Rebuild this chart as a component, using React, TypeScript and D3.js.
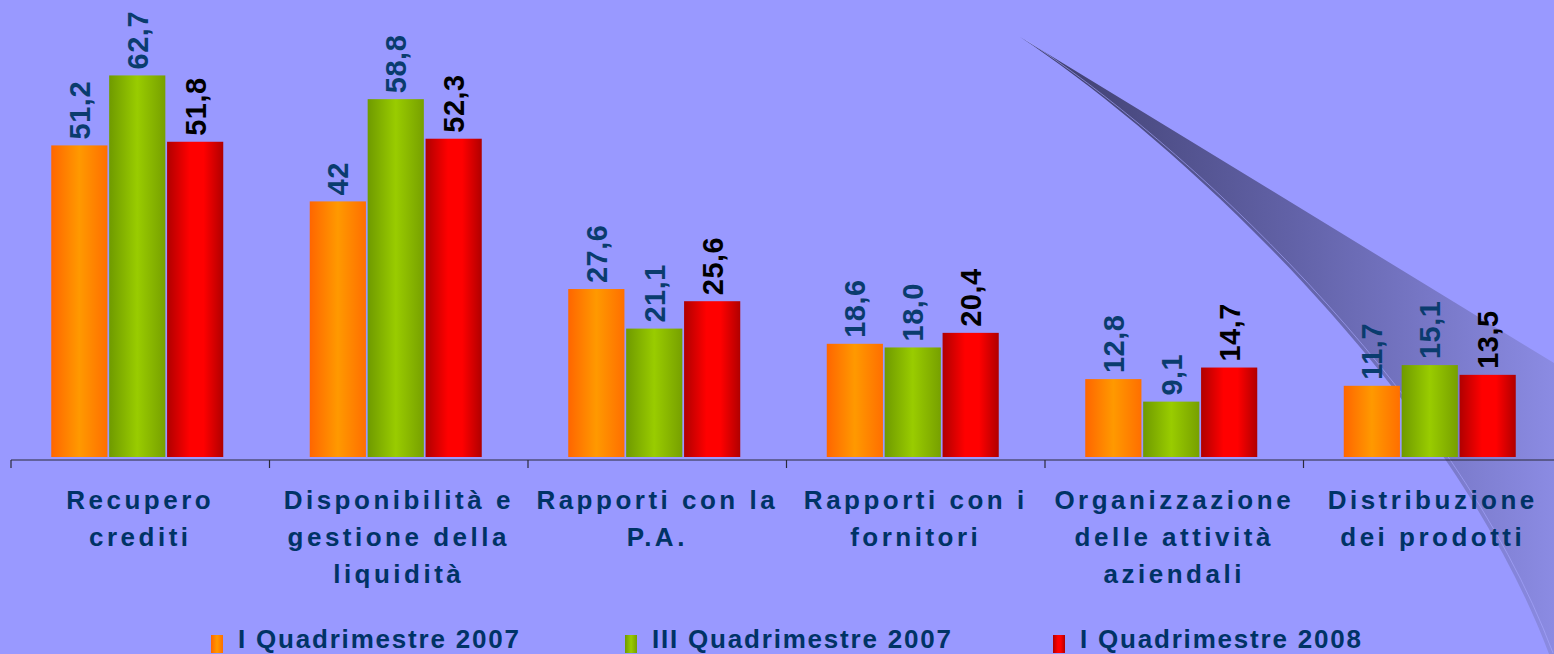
import * as d3 from "d3";

// chart data
const categories = [
  "Recupero crediti",
  "Disponibilità e gestione della liquidità",
  "Rapporti con la P.A.",
  "Rapporti con i fornitori",
  "Organizzazione delle attività aziendali",
  "Distribuzione dei prodotti",
];
const categoryLines = [
  ["Recupero", "crediti"],
  ["Disponibilità e", "gestione della", "liquidità"],
  ["Rapporti con la", "P.A."],
  ["Rapporti con i", "fornitori"],
  ["Organizzazione", "delle attività", "aziendali"],
  ["Distribuzione", "dei prodotti"],
];
const seriesNames = ["I Quadrimestre 2007", "III Quadrimestre 2007", "I Quadrimestre 2008"];
const q1_2007 = [51.2, 42, 27.6, 18.6, 12.8, 11.7];
const q3_2007 = [62.7, 58.8, 21.1, 18.0, 9.1, 15.1];
const q1_2008 = [51.8, 52.3, 25.6, 20.4, 14.7, 13.5];
const q1_2007Labels = ["51,2", "42", "27,6", "18,6", "12,8", "11,7"];
const q3_2007Labels = ["62,7", "58,8", "21,1", "18,0", "9,1", "15,1"];
const q1_2008Labels = ["51,8", "52,3", "25,6", "20,4", "14,7", "13,5"];

const W = 1554;
const H = 654;
const FONT = "Arial, 'Liberation Sans', sans-serif";
const NAVY = "#003366";

const series = [
  { name: seriesNames[0], values: q1_2007, labels: q1_2007Labels, grad: "gOrange", labelColor: "#0a3c6e" },
  { name: seriesNames[1], values: q3_2007, labels: q3_2007Labels, grad: "gGreen", labelColor: "#0a3c6e" },
  { name: seriesNames[2], values: q1_2008, labels: q1_2008Labels, grad: "gRed", labelColor: "#000000" },
];

const legendX = [211, 625, 1053];

export default function App() {
  const x0 = d3
    .scaleBand<string>()
    .domain(categories)
    .range([11, 11 + 258.5 * categories.length])
    .padding(0);
  const groupW = 172;
  const x1 = d3.scaleBand<string>().domain(seriesNames).range([0, groupW]).paddingInner(0.03);
  const groupOffset = (x0.bandwidth() - groupW) / 2 - 3;
  const y = d3.scaleLinear().domain([0, 70]).range([457, 31]);

  const axisY = 460;
  const ticks = categories.map((c) => x0(c)!).concat([x0(categories[5])! + x0.bandwidth()]);

  // decorative swoosh on the right
  const sw = d3.path();
  sw.moveTo(1020, 37);
  sw.lineTo(1554, 363);
  sw.lineTo(1554, 654);
  sw.lineTo(1549, 654);
  sw.bezierCurveTo(1450, 390, 1170, 135, 1020, 37);
  sw.closePath();
  const hl = d3.path();
  hl.moveTo(1026, 40);
  hl.bezierCurveTo(1175, 136, 1454, 389, 1553, 653);

  return (
    <svg
      width={W}
      height={H}
      style={{ position: "absolute", left: 0, top: 0, display: "block" }}
      fontFamily={FONT}
    >
      <defs>
        <linearGradient id="gOrange" x1="0" x2="1" y1="0" y2="0">
          <stop offset="0" stopColor="#ff6600" />
          <stop offset="0.5" stopColor="#ff9900" />
          <stop offset="1" stopColor="#ff6f00" />
        </linearGradient>
        <linearGradient id="gGreen" x1="0" x2="1" y1="0" y2="0">
          <stop offset="0" stopColor="#6f9a00" />
          <stop offset="0.5" stopColor="#99cc00" />
          <stop offset="1" stopColor="#77a000" />
        </linearGradient>
        <linearGradient id="gRed" x1="0" x2="1" y1="0" y2="0">
          <stop offset="0" stopColor="#b00000" />
          <stop offset="0.4" stopColor="#ff0000" />
          <stop offset="0.65" stopColor="#ff0000" />
          <stop offset="1" stopColor="#b00000" />
        </linearGradient>
        <linearGradient id="gSwoosh" gradientUnits="userSpaceOnUse" x1="1020" x2="1554" y1="0" y2="0">
          <stop offset="0" stopColor="#3c3c6a" />
          <stop offset="0.5" stopColor="#6161a6" />
          <stop offset="1" stopColor="#8b8be3" />
        </linearGradient>
      </defs>

      <rect x={0} y={0} width={W} height={H} fill="#9999ff" />
      <path d={sw.toString()} fill="url(#gSwoosh)" />
      <path d={hl.toString()} fill="none" stroke="#a8a8ff" strokeWidth={1} opacity={0.6} />

      {/* bars */}
      {categories.map((c, i) => (
        <g key={c} transform={`translate(${x0(c)! + groupOffset},0)`}>
          {series.map((s) => {
            const bx = x1(s.name)!;
            const top = y(s.values[i]);
            return (
              <g key={s.name}>
                <rect x={bx} y={top} width={x1.bandwidth()} height={y(0) - top} fill={`url(#${s.grad})`} />
                <text
                  transform={`translate(${bx + x1.bandwidth() / 2},${top - 6}) rotate(-90)`}
                  dy="0.36em"
                  fontSize={29}
                  fontWeight="bold"
                  fill={s.labelColor}
                  style={{ letterSpacing: "0.5px" }}
                >
                  {s.labels[i]}
                </text>
              </g>
            );
          })}
        </g>
      ))}

      {/* axis */}
      <line x1={11} x2={W} y1={axisY} y2={axisY} stroke="#2a2a3a" strokeWidth={1.2} />
      {ticks.map((t, i) => (
        <line key={i} x1={t} x2={t} y1={axisY} y2={axisY + 8} stroke="#2a2a3a" strokeWidth={1.2} />
      ))}
      {categories.map((c, i) => (
        <text
          key={c}
          x={x0(c)! + x0.bandwidth() / 2}
          y={509}
          textAnchor="middle"
          fontSize={26}
          fontWeight="bold"
          fill={NAVY}
          style={{ letterSpacing: "3.5px" }}
        >
          {categoryLines[i].map((line, j) => (
            <tspan key={j} x={x0(c)! + x0.bandwidth() / 2} dy={j === 0 ? 0 : 37}>
              {line}
            </tspan>
          ))}
        </text>
      ))}

      {/* legend */}
      {series.map((s, i) => (
        <g key={s.name} transform={`translate(${legendX[i]},0)`}>
          <rect x={0} y={635} width={12} height={18} fill={`url(#${s.grad})`} />
          <text x={27} y={648} fontSize={26} fontWeight="bold" fill={NAVY} style={{ letterSpacing: "1.8px" }}>
            {s.name}
          </text>
        </g>
      ))}
    </svg>
  );
}
